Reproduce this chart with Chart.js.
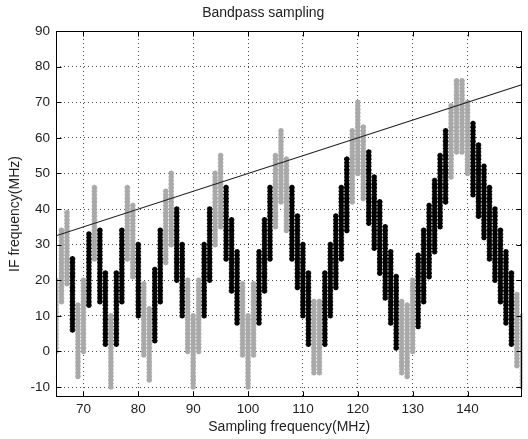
<!DOCTYPE html>
<html>
<head>
<meta charset="utf-8">
<title>Bandpass sampling</title>
<script src="https://cdn.jsdelivr.net/npm/chart.js@4"></script>
<style>
  html, body { margin: 0; padding: 0; background: #fff; }
  #wrap { width: 528px; height: 439px; }
</style>
</head>
<body>
<div id="wrap"><canvas id="chart" width="528" height="439"></canvas></div>
<script>
// sampling frequencies (MHz), one marker column each
const fsValues = [65, 66, 67, 68, 69, 70, 71, 72, 73, 74, 75, 76, 77, 78, 79, 80, 81, 82, 83, 84,
    85, 86, 87, 88, 89, 90, 91, 92, 93, 94, 95, 96, 97, 98, 99, 100, 101, 102, 103, 104,
    105, 106, 107, 108, 109, 110, 111, 112, 113, 114, 115, 116, 117, 118, 119, 120, 121, 122, 123, 124,
    125, 126, 127, 128, 129, 130, 131, 132, 133, 134, 135, 136, 137, 138, 139, 140, 141, 142, 143, 144,
    145, 146, 147, 148, 149, 150];

// bottom / top of each column (IF, MHz)
const lowIF = [0, 14, 19, 6, -7, 0, 13, 26, 14, 2, -10, 2, 14, 26, 21, 10, -1, -8, 3, 14,
    25, 30, 20, 10, 0, -10, 0, 10, 20, 30, 35, 26, 17, 8, -1, -10, -1, 8, 17, 26,
    35, 42, 34, 26, 18, 10, 2, -6, -6, 2, 10, 18, 26, 34, 42, 50, 43, 36, 29, 22,
    15, 8, 1, -6, -7, 0, 7, 14, 21, 28, 35, 42, 49, 56, 56, 50, 44, 38, 32, 26,
    20, 14, 8, 2, -4, -10];
const highIF = [20, 34, 39, 26, 13, 20, 33, 46, 34, 22, 10, 22, 34, 46, 41, 30, 19, 12, 23, 34,
    45, 50, 40, 30, 20, 10, 20, 30, 40, 50, 55, 46, 37, 28, 19, 10, 19, 28, 37, 46,
    55, 62, 54, 46, 38, 30, 22, 14, 14, 22, 30, 38, 46, 54, 62, 70, 63, 56, 49, 42,
    35, 28, 21, 14, 13, 20, 27, 34, 41, 48, 55, 62, 69, 76, 76, 70, 64, 58, 52, 46,
    40, 34, 28, 22, 16, 10];
// 1 = band crosses 0 or fs/2 (grey), 0 = usable (black)
const aliased = [1, 1, 1, 0, 1, 1, 0, 1, 0, 0, 1, 0, 0, 1, 1, 0, 1, 1, 0, 0,
    1, 1, 0, 0, 1, 1, 1, 0, 0, 1, 1, 0, 0, 0, 1, 1, 1, 0, 0, 0,
    1, 1, 1, 0, 0, 0, 0, 1, 1, 0, 0, 0, 0, 0, 1, 1, 1, 0, 0, 0,
    0, 0, 0, 1, 1, 1, 0, 0, 0, 0, 0, 0, 1, 1, 1, 1, 0, 0, 0, 0,
    0, 0, 0, 0, 1, 1];

// Nyquist line fs/2
const nyquistFs = [65, 150];
const nyquistIF = [32.5, 75];

const xTicks = [70, 80, 90, 100, 110, 120, 130, 140];
const yTicks = [-10, 0, 10, 20, 30, 40, 50, 60, 70, 80, 90];

const goodPts = [];
const badPts = [];
fsValues.forEach((fs, i) => {
    // markers sit every 1 MHz along the column
    for (let v = lowIF[i]; v <= highIF[i]; v++) {
        (aliased[i] ? badPts : goodPts).push({ x: fs, y: v });
    }
});

const TEXT = '#222';
const FONT = 'Liberation Sans, Arial, sans-serif';

// box round the axes + inward tick marks, matlab style
const frameTicks = {
    id: 'frameTicks',
    afterDatasetsDraw(chart) {
        const { ctx, chartArea: a, scales: { x, y } } = chart;
        const L = Math.round(a.left) + 0.5, R = Math.round(a.right) - 0.5;
        const T = Math.round(a.top) + 0.5, B = Math.round(a.bottom) - 0.5;
        ctx.save();
        ctx.strokeStyle = '#000';
        ctx.lineWidth = 1;
        ctx.strokeRect(L, T, R - L, B - T);
        ctx.beginPath();
        x.ticks.forEach(t => {
            const px = Math.round(x.getPixelForValue(t.value)) + 0.5;
            ctx.moveTo(px, B); ctx.lineTo(px, B - 5);
            ctx.moveTo(px, T); ctx.lineTo(px, T + 5);
        });
        y.ticks.forEach(t => {
            const py = Math.round(y.getPixelForValue(t.value)) + 0.5;
            ctx.moveTo(L, py); ctx.lineTo(L + 5, py);
            ctx.moveTo(R, py); ctx.lineTo(R - 5, py);
        });
        ctx.stroke();
        ctx.restore();
    }
};

new Chart(document.getElementById('chart'), {
    type: 'scatter',
    data: {
        datasets: [
            {
                type: 'line',
                label: 'fs/2',
                data: nyquistFs.map((fs, i) => ({ x: fs, y: nyquistIF[i] })),
                borderColor: '#202020',
                borderWidth: 1.1,
                pointRadius: 0,
                order: 0
            },
            {
                label: 'valid',
                data: goodPts,
                pointStyle: 'star',
                pointRadius: 2.8,
                borderColor: '#000',
                backgroundColor: '#000',
                borderWidth: 1.6,
                order: 1
            },
            {
                label: 'aliased',
                data: badPts,
                pointStyle: 'star',
                pointRadius: 2.8,
                borderColor: '#a9a9a9',
                backgroundColor: '#a9a9a9',
                borderWidth: 1.6,
                order: 2
            }
        ]
    },
    options: {
        responsive: false,
        animation: false,
        layout: { padding: { left: 0, right: 1.5, top: 0, bottom: 0 } },
        plugins: {
            legend: { display: false },
            tooltip: { enabled: false },
            title: {
                display: true,
                text: 'Bandpass sampling',
                color: TEXT,
                font: { family: FONT, size: 14, weight: 'normal' },
                padding: { top: 4.5, bottom: 9.7 }
            }
        },
        scales: {
            x: {
                type: 'linear',
                min: 65,
                max: 150,
                afterBuildTicks: s => { s.ticks = xTicks.map(v => ({ value: v })); },
                afterFit: s => { s.height = 42; },
                grid: { color: 'rgba(0,0,0,0.7)', lineWidth: 1, drawTicks: false },
                border: { display: false, dash: [1, 3] },
                ticks: { color: TEXT, font: { family: FONT, size: 13.5 }, padding: 4, maxRotation: 0 },
                title: {
                    display: true,
                    text: 'Sampling frequency(MHz)',
                    color: TEXT,
                    font: { family: FONT, size: 14 },
                    padding: { top: 0, bottom: 3 }
                }
            },
            y: {
                type: 'linear',
                min: -12.8,
                max: 90,
                afterBuildTicks: s => { s.ticks = yTicks.map(v => ({ value: v })); },
                afterFit: s => { s.width = 56; },
                grid: { color: 'rgba(0,0,0,0.7)', lineWidth: 1, drawTicks: false },
                border: { display: false, dash: [1, 3] },
                ticks: { color: TEXT, font: { family: FONT, size: 13.5 }, padding: 6 },
                title: {
                    display: true,
                    text: 'IF frequency(MHz)',
                    color: TEXT,
                    font: { family: FONT, size: 14 },
                    padding: { top: 6.5, bottom: 0 }
                }
            }
        }
    },
    plugins: [frameTicks]
});
</script>
</body>
</html>
